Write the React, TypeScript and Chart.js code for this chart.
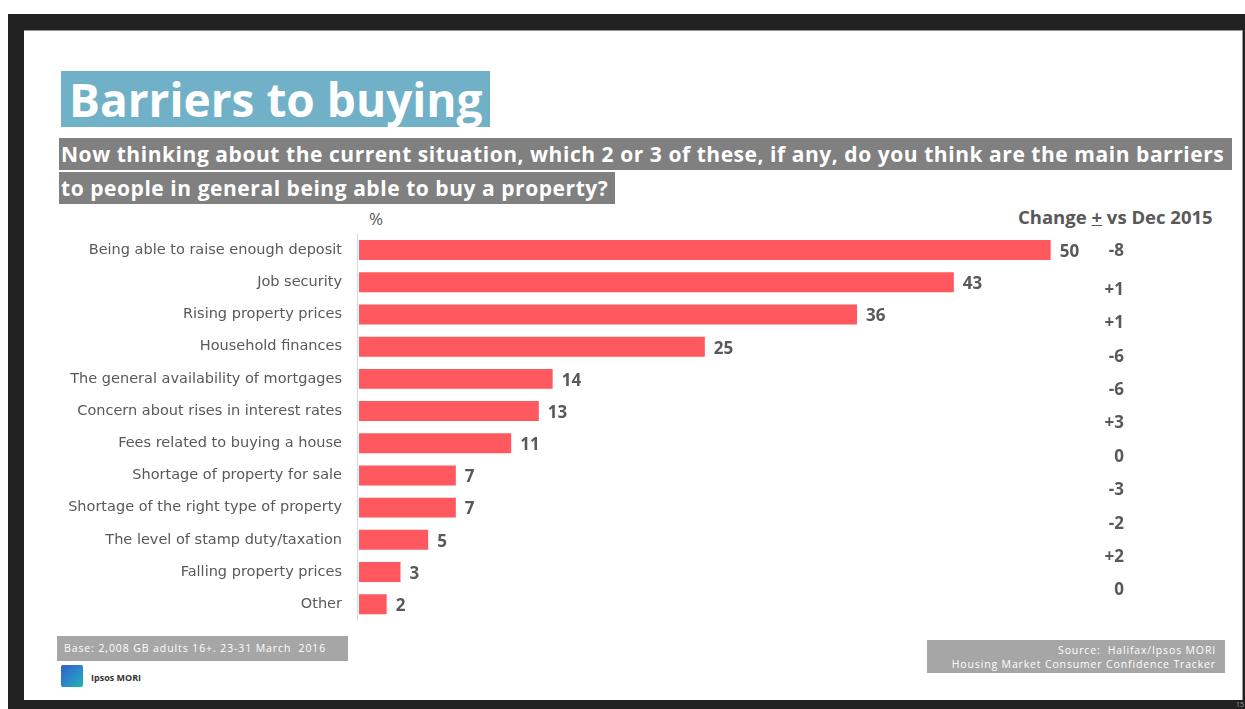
import React, { useEffect, useRef } from "react";
import { Chart, registerables } from "chart.js";

Chart.register(...registerables);

const categories = [
  "Being able to raise enough deposit",
  "Job security",
  "Rising property prices",
  "Household finances",
  "The general availability of mortgages",
  "Concern about rises in interest rates",
  "Fees related to buying a house",
  "Shortage of property for sale",
  "Shortage of the right type of property",
  "The level of stamp duty/taxation",
  "Falling property prices",
  "Other",
];
const values = [50, 43, 36, 25, 14, 13, 11, 7, 7, 5, 3, 2];
const changes = ["-8", "+1", "+1", "-6", "-6", "+3", "0", "-3", "-2", "+2", "0"];
const xMax = 60;

const BAR = "#FF585E";
const GREY_TEXT = "#595959";

const overlayPlugin = {
  id: "overlay",
  afterDatasetsDraw(chart: any) {
    const ctx = chart.ctx;
    const area = chart.chartArea;
    const meta = chart.getDatasetMeta(0);
    ctx.save();
    ctx.strokeStyle = "#d9d9d9";
    ctx.lineWidth = 1;
    ctx.beginPath();
    ctx.moveTo(Math.round(area.left) - 1.5, area.top);
    ctx.lineTo(Math.round(area.left) - 1.5, area.bottom + 1);
    ctx.stroke();
    ctx.font = "bold 17px 'Open Sans'";
    ctx.fillStyle = GREY_TEXT;
    ctx.textBaseline = "middle";
    ctx.textAlign = "left";
    meta.data.forEach((bar: any, i: number) => {
      ctx.fillText(String(values[i]), bar.x + 9, bar.y + 2);
    });
    ctx.textAlign = "right";
    const xr = area.right - 65;
    changes.forEach((c, i) => {
      const y = i === 0 ? area.top + 17 : area.top + 56 + (i - 1) * 33.4;
      ctx.fillText(c, xr, y);
    });
    ctx.restore();
  },
};

function BarChart() {
  const ref = useRef<HTMLCanvasElement | null>(null);
  useEffect(() => {
    if (!ref.current) return;
    const chart = new Chart(ref.current, {
      type: "bar",
      data: {
        labels: categories,
        datasets: [
          {
            data: values,
            backgroundColor: BAR,
            borderWidth: 0,
            categoryPercentage: 1,
            barPercentage: 0.62,
          },
        ],
      },
      options: {
        indexAxis: "y",
        animation: false,
        responsive: false,
        maintainAspectRatio: false,
        layout: { padding: { top: 34, right: 54, bottom: 6, left: 0 } },
        plugins: { legend: { display: false }, tooltip: { enabled: false } },
        scales: {
          x: { display: false, min: 0, max: xMax },
          y: {
            afterFit(scale: any) {
              scale.width = 335;
            },
            grid: { display: false, drawTicks: false },
            border: { display: false },
            ticks: {
              padding: 17,
              color: GREY_TEXT,
              font: { family: "'DejaVu Sans'", size: 14.5 },
            },
          },
        },
      },
      plugins: [overlayPlugin],
    });
    return () => chart.destroy();
  }, []);
  return (
    <canvas
      ref={ref}
      width={1219}
      height={446}
      style={{ position: "absolute", left: 24, top: 200, width: 1219, height: 446 }}
    />
  );
}

export default function App() {
  const abs = (s: React.CSSProperties): React.CSSProperties => ({ position: "absolute", ...s });
  return (
    <div style={{ position: "fixed", left: 0, top: 0, width: 1245, height: 709, background: "#fff", overflow: "hidden", fontFamily: "'Open Sans', sans-serif" }}>
      <div style={abs({ left: 8, top: 14, right: 0, bottom: 0, background: "#222" })} />
      <div style={abs({ left: 24, top: 30, width: 1219, height: 670, background: "#fff", borderTop: "1px solid #999", borderRight: "1px solid #999", boxSizing: "border-box" })} />
      <div style={abs({ left: 61, top: 71, width: 429, height: 56, background: "#71B1C8", color: "#fff", fontFamily: "'Open Sans'", fontWeight: 700, fontSize: 46, lineHeight: "56px", paddingLeft: 8, boxSizing: "border-box", whiteSpace: "nowrap" })}>
        Barriers to buying
      </div>
      <div style={abs({ left: 59, top: 138, width: 1173, height: 32, background: "#808080", color: "#fff", fontFamily: "'Open Sans'", fontWeight: 700, fontSize: 21, letterSpacing: 0.55, lineHeight: "32px", paddingLeft: 2, boxSizing: "border-box", whiteSpace: "nowrap" })}>
        Now thinking about the current situation, which 2 or 3 of these, if any, do you think are the main barriers
      </div>
      <div style={abs({ left: 59, top: 172, width: 556, height: 32, background: "#808080", color: "#fff", fontFamily: "'Open Sans'", fontWeight: 700, fontSize: 21, letterSpacing: 0.55, lineHeight: "32px", paddingLeft: 2, boxSizing: "border-box", whiteSpace: "nowrap" })}>
        to people in general being able to buy a property?
      </div>
      <div style={abs({ left: 369, top: 207, color: GREY_TEXT, fontSize: 17, lineHeight: "24px" })}>%</div>
      <div style={abs({ left: 1018, top: 205, color: GREY_TEXT, fontFamily: "'Open Sans'", fontWeight: 700, fontSize: 18.5, lineHeight: "24px", whiteSpace: "nowrap" })}>
        Change <span style={{ textDecoration: "underline" }}>+</span> vs Dec 2015
      </div>
      <BarChart />
      <div style={abs({ left: 57, top: 636, width: 291, height: 25, background: "#A6A6A6", color: "#fff", fontSize: 10.5, letterSpacing: 0.9, lineHeight: "25px", paddingLeft: 7, boxSizing: "border-box", whiteSpace: "nowrap" })}>
        Base: 2,008 GB adults 16+. 23-31 March&nbsp; 2016
      </div>
      <div style={abs({ left: 61, top: 665, width: 22, height: 22, borderRadius: 2, background: "linear-gradient(135deg, #2F5FC4 0%, #2A8FC9 60%, #1DB8A8 100%)" })} />
      <div style={abs({ left: 91, top: 670, fontSize: 9, fontWeight: 700, color: "#333", lineHeight: "16px" })}>Ipsos MORI</div>
      <div style={abs({ left: 927, top: 640, width: 298, height: 33, background: "#A6A6A6", color: "#fff", fontSize: 10.5, letterSpacing: 0.85, lineHeight: "14px", paddingTop: 3, paddingRight: 9, textAlign: "right", boxSizing: "border-box", whiteSpace: "nowrap" })}>
        Source:&nbsp; Halifax/Ipsos MORI
        <br />
        Housing Market Consumer Confidence Tracker
      </div>
      <div style={abs({ left: 1236, top: 700, fontSize: 7, color: "#999", lineHeight: "9px" })}>15</div>
    </div>
  );
}
